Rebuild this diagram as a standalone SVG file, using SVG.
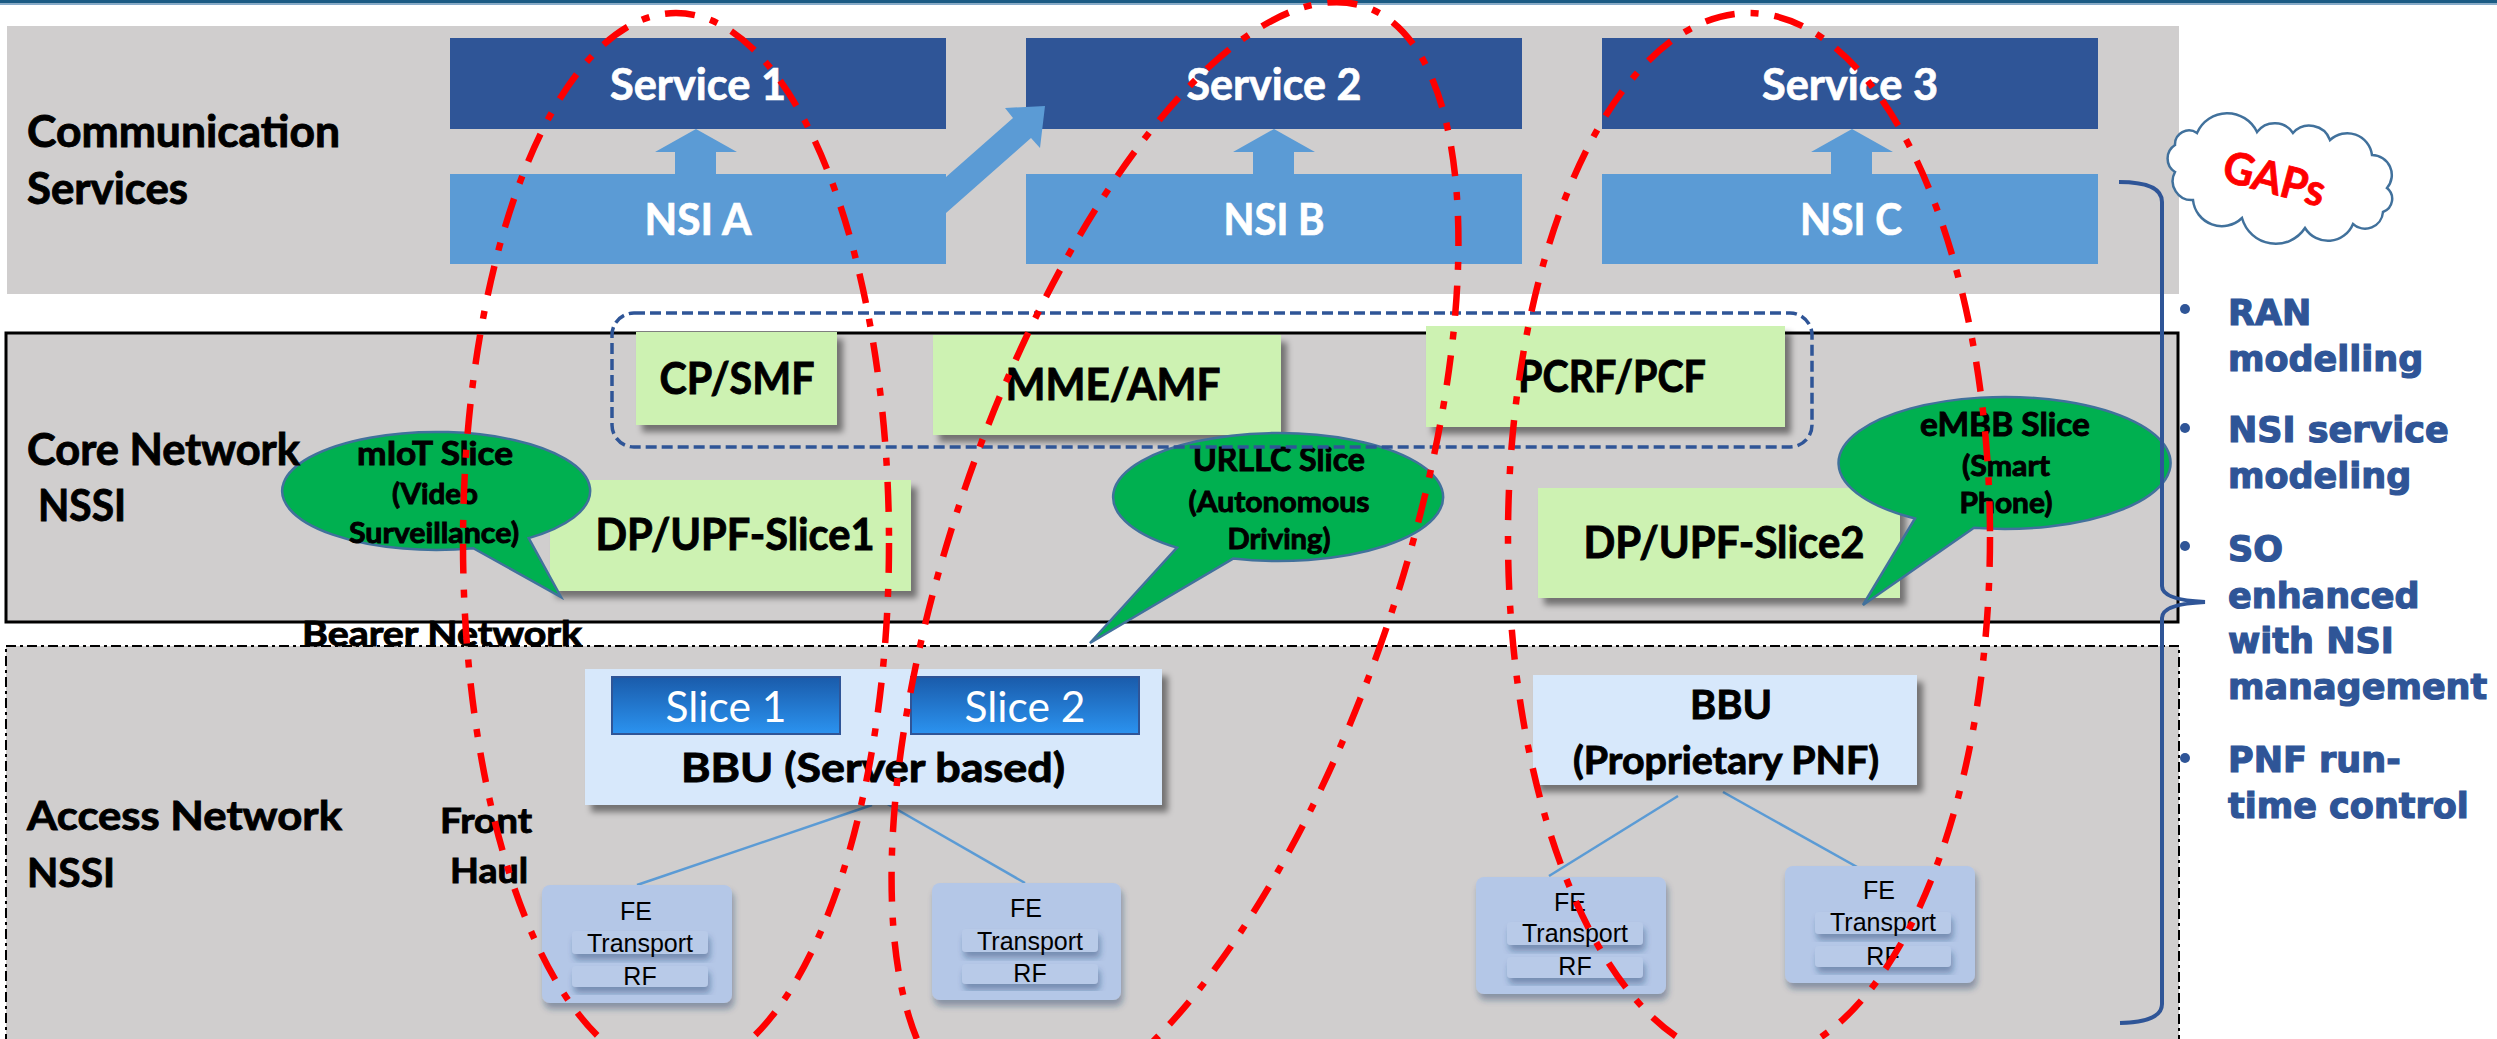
<svg xmlns="http://www.w3.org/2000/svg" width="2497" height="1039" viewBox="0 0 2497 1039">
  <defs>
    <style>
      .lbl { font-family: Lato, "Liberation Sans", sans-serif; font-weight: 700; fill: #000; stroke: #000; stroke-width: 0.9; }
      .svc { font-family: Lato, "Liberation Sans", sans-serif; font-weight: 700; font-size: 43px; fill: #fff; stroke: #fff; stroke-width: 0.7; text-anchor: middle; }
      .big { font-size: 43px; }
      .mid { text-anchor: middle; }
      .bub1 { font-size: 32px; text-anchor: middle; }
      .bub2 { font-size: 28px; text-anchor: middle; }
      .fe { font-family: "Liberation Sans", Arial, sans-serif; font-size: 25px; fill: #000; text-anchor: middle; }
      .gap { font-family: "DejaVu Sans", Verdana, sans-serif; font-weight: 700; font-size: 35px; fill: #2F5597; stroke: #2F5597; stroke-width: 1.2; }
      .panel { fill: #D0CECE; }
      .service { fill: #2F5597; }
      .nsi { fill: #5B9BD5; }
      .nf { fill: #CDF2B2; filter: url(#shadow); }
      .bbu { fill: #D7E8FB; filter: url(#shadow); }
      .febox { fill: #B4C7E7; filter: url(#shadowSoft); }
      .feinner { fill: #B8CAE8; filter: url(#shadowSoft); }
      .bubble { fill: #00B050; stroke: #41719C; stroke-width: 2.5; }
      .link { stroke: #5B9BD5; stroke-width: 2.5; fill: none; }
      .ring { fill: none; stroke: #FF0000; stroke-width: 6.5; stroke-dasharray: 30 16 8 16; }
    </style>
    <filter id="shadow" x="-10%" y="-15%" width="130%" height="150%">
      <feDropShadow dx="6" dy="7" stdDeviation="3" flood-color="#000" flood-opacity="0.45"/>
    </filter>
    <filter id="shadowSoft" x="-10%" y="-15%" width="130%" height="150%">
      <feDropShadow dx="2" dy="6" stdDeviation="3" flood-color="#1F3864" flood-opacity="0.4"/>
    </filter>
    <linearGradient id="sliceGrad" x1="0" y1="0" x2="0" y2="1">
      <stop offset="0" stop-color="#1A5BAA"/>
      <stop offset="1" stop-color="#2B93F0"/>
    </linearGradient>
  </defs>

  <rect x="0" y="0" width="2497" height="1039" fill="#fff"/>
  <!-- header rule -->
  <rect x="0" y="0" width="2497" height="3.5" fill="#1B5B84"/>
  <rect x="0" y="3.5" width="2497" height="1.5" fill="#86AACA"/>

  <!-- Communication services layer -->
  <g id="communication-services">
    <rect class="panel" x="7" y="26" width="2172" height="268"/>
    <text class="lbl big" x="27" y="147" textLength="313" lengthAdjust="spacingAndGlyphs">Communication</text>
    <text class="lbl big" x="27" y="204" textLength="161" lengthAdjust="spacingAndGlyphs">Services</text>
  </g>
  <g id="service-1">
    <rect class="service" x="450" y="38" width="496" height="91"/>
    <text class="svc" x="698" y="100" textLength="176" lengthAdjust="spacingAndGlyphs">Service 1</text>
  </g>
  <g id="service-2">
    <rect class="service" x="1026" y="38" width="496" height="91"/>
    <text class="svc" x="1274" y="100" textLength="175" lengthAdjust="spacingAndGlyphs">Service 2</text>
  </g>
  <g id="service-3">
    <rect class="service" x="1602" y="38" width="496" height="91"/>
    <text class="svc" x="1850" y="100" textLength="176" lengthAdjust="spacingAndGlyphs">Service 3</text>
  </g>

  <!-- Core network layer -->
  <g id="core-network">
    <rect class="panel" x="6" y="333" width="2172" height="289" stroke="#000" stroke-width="3"/>
  </g>

  <!-- Access network layer -->
  <g id="access-network">
    <rect class="panel" x="6" y="646" width="2173" height="420" stroke="#000" stroke-width="2" stroke-dasharray="10 4 3 4"/>
  </g>

  <g id="connectors">
    <polygon class="nsi" points="696,129 737,152 716,152 716,174 675,174 675,152 655,152"/>
    <polygon class="nsi" points="1274,129 1315,152 1294,152 1294,174 1253,174 1253,152 1233,152"/>
    <polygon class="nsi" points="1852,129 1893,152 1872,152 1872,174 1831,174 1831,152 1811,152"/>
    <polygon class="nsi" points="946,177 1013,118 1005,108 1045,106 1040,148 1031,138 946,213"/>
    <line class="link" x1="872" y1="805" x2="637" y2="885"/>
    <line class="link" x1="884" y1="802" x2="1025" y2="883"/>
    <line class="link" x1="1678" y1="796" x2="1549" y2="876"/>
    <line class="link" x1="1723" y1="792" x2="1866" y2="872"/>
  </g>

  <g id="nsi-a">
    <rect class="nsi" x="450" y="174" width="496" height="90"/>
    <text class="svc" x="698" y="235" textLength="107" lengthAdjust="spacingAndGlyphs">NSI A</text>
  </g>
  <g id="nsi-b">
    <rect class="nsi" x="1026" y="174" width="496" height="90"/>
    <text class="svc" x="1274" y="235" textLength="101" lengthAdjust="spacingAndGlyphs">NSI B</text>
  </g>
  <g id="nsi-c">
    <rect class="nsi" x="1602" y="174" width="496" height="90"/>
    <text class="svc" x="1851" y="235" textLength="102" lengthAdjust="spacingAndGlyphs">NSI C</text>
  </g>

  <!-- core network functions -->
  <g id="cp-smf">
    <rect class="nf" x="636" y="332" width="201" height="93"/>
    <text class="lbl big mid" x="737" y="394" textLength="155" lengthAdjust="spacingAndGlyphs">CP/SMF</text>
  </g>
  <g id="mme-amf">
    <rect class="nf" x="933" y="335" width="348" height="100"/>
    <text class="lbl big mid" x="1113" y="400" textLength="215" lengthAdjust="spacingAndGlyphs">MME/AMF</text>
  </g>
  <g id="pcrf-pcf">
    <rect class="nf" x="1426" y="326" width="359" height="101"/>
    <text class="lbl big mid" x="1612" y="392" textLength="188" lengthAdjust="spacingAndGlyphs">PCRF/PCF</text>
  </g>
  <g id="upf-slice1">
    <rect class="nf" x="550" y="480" width="361" height="111"/>
    <text class="lbl big mid" x="735" y="550" textLength="279" lengthAdjust="spacingAndGlyphs">DP/UPF-Slice1</text>
  </g>
  <g id="upf-slice2">
    <rect class="nf" x="1538" y="488" width="362" height="110"/>
    <text class="lbl big mid" x="1724" y="558" textLength="281" lengthAdjust="spacingAndGlyphs">DP/UPF-Slice2</text>
  </g>

  <!-- slice callouts -->
  <g id="miot-slice">
    <path class="bubble" d="M528.7,538.1 L561,597 L473.3,548.2 A154 59 0 1 1 528.7,538.1 Z"/>
    <text class="lbl bub1" x="435" y="465" textLength="156" lengthAdjust="spacingAndGlyphs">mIoT Slice</text>
    <text class="lbl bub2" x="435" y="504" textLength="86" lengthAdjust="spacingAndGlyphs">(Video</text>
    <text class="lbl bub2" x="434" y="543" textLength="170" lengthAdjust="spacingAndGlyphs">Surveillance)</text>
  </g>
  <g id="urllc-slice">
    <path class="bubble" d="M1233.1,558.6 L1090,643 L1177,547.6 A165 64 0 1 1 1233.1,558.6 Z"/>
    <text class="lbl bub1" x="1279" y="471" textLength="172" lengthAdjust="spacingAndGlyphs">URLLC Slice</text>
    <text class="lbl bub2" x="1279" y="512" textLength="181" lengthAdjust="spacingAndGlyphs">(Autonomous</text>
    <text class="lbl bub2" x="1279" y="549" textLength="103" lengthAdjust="spacingAndGlyphs">Driving)</text>
  </g>
  <g id="embb-slice">
    <path class="bubble" d="M1974,527.8 L1863,605 L1915,518.5 A166 66 0 1 1 1974,527.8 Z"/>
    <text class="lbl bub1" x="2005" y="436" textLength="170" lengthAdjust="spacingAndGlyphs">eMBB Slice</text>
    <text class="lbl bub2" x="2006" y="476" textLength="88" lengthAdjust="spacingAndGlyphs">(Smart</text>
    <text class="lbl bub2" x="2006" y="513" textLength="93" lengthAdjust="spacingAndGlyphs">Phone)</text>
  </g>

  <!-- shared control plane grouping -->
  <g id="control-plane-group">
    <rect x="612" y="313" width="1200" height="134" rx="22" fill="none" stroke="#2F5597" stroke-width="3.5" stroke-dasharray="11 5"/>
  </g>

  <g id="core-label">
    <text class="lbl big" x="27" y="465" textLength="273" lengthAdjust="spacingAndGlyphs">Core Network</text>
    <text class="lbl big" x="38" y="521" textLength="88" lengthAdjust="spacingAndGlyphs">NSSI</text>
  </g>
  <g id="bearer-network">
    <text class="lbl" x="302" y="646" font-size="35" textLength="280" lengthAdjust="spacingAndGlyphs">Bearer Network</text>
  </g>
  <g id="access-label">
    <text class="lbl" x="27" y="830" font-size="41" textLength="315" lengthAdjust="spacingAndGlyphs">Access Network</text>
    <text class="lbl" x="27" y="887" font-size="41" textLength="88" lengthAdjust="spacingAndGlyphs">NSSI</text>
  </g>
  <g id="front-haul">
    <text class="lbl mid" x="486" y="833" font-size="35" textLength="92" lengthAdjust="spacingAndGlyphs">Front</text>
    <text class="lbl mid" x="489" y="883" font-size="35" textLength="78" lengthAdjust="spacingAndGlyphs">Haul</text>
  </g>

  <!-- RAN -->
  <g id="bbu-server">
    <rect class="bbu" x="585" y="669" width="577" height="136"/>
    <rect x="612" y="677" width="228" height="57" fill="url(#sliceGrad)" stroke="#2F5597" stroke-width="2"/>
    <rect x="911" y="677" width="228" height="57" fill="url(#sliceGrad)" stroke="#2F5597" stroke-width="2"/>
    <text x="726" y="722" font-family="Lato, 'Liberation Sans', sans-serif" font-size="42" fill="#fff" text-anchor="middle" textLength="121" lengthAdjust="spacingAndGlyphs">Slice 1</text>
    <text x="1025" y="722" font-family="Lato, 'Liberation Sans', sans-serif" font-size="42" fill="#fff" text-anchor="middle" textLength="121" lengthAdjust="spacingAndGlyphs">Slice 2</text>
    <text class="lbl mid" x="873" y="782" font-size="41" textLength="384" lengthAdjust="spacingAndGlyphs">BBU (Server based)</text>
  </g>
  <g id="bbu-pnf">
    <rect class="bbu" x="1533" y="675" width="384" height="110"/>
    <text class="lbl mid" x="1731" y="719" font-size="41" textLength="82" lengthAdjust="spacingAndGlyphs">BBU</text>
    <text class="lbl mid" x="1726" y="774" font-size="39" textLength="306" lengthAdjust="spacingAndGlyphs">(Proprietary PNF)</text>
  </g>

  <g id="fe-1">
    <rect class="febox" x="542" y="885" width="190" height="118" rx="8"/>
    <rect class="feinner" x="572" y="931" width="136" height="23" rx="4"/>
    <rect class="feinner" x="572" y="966" width="136" height="21" rx="4"/>
    <text class="fe" x="636" y="920">FE</text>
    <text class="fe" x="640" y="952">Transport</text>
    <text class="fe" x="640" y="985">RF</text>
  </g>
  <g id="fe-2">
    <rect class="febox" x="932" y="883" width="189" height="117" rx="8"/>
    <rect class="feinner" x="962" y="929" width="136" height="23" rx="4"/>
    <rect class="feinner" x="962" y="964" width="136" height="20" rx="4"/>
    <text class="fe" x="1026" y="917">FE</text>
    <text class="fe" x="1030" y="950">Transport</text>
    <text class="fe" x="1030" y="982">RF</text>
  </g>
  <g id="fe-3">
    <rect class="febox" x="1476" y="877" width="190" height="117" rx="8"/>
    <rect class="feinner" x="1507" y="922" width="136" height="23" rx="4"/>
    <rect class="feinner" x="1507" y="957" width="136" height="21" rx="4"/>
    <text class="fe" x="1570" y="911">FE</text>
    <text class="fe" x="1575" y="942">Transport</text>
    <text class="fe" x="1575" y="975">RF</text>
  </g>
  <g id="fe-4">
    <rect class="febox" x="1785" y="866" width="190" height="117" rx="8"/>
    <rect class="feinner" x="1815" y="912" width="136" height="22" rx="4"/>
    <rect class="feinner" x="1815" y="946" width="136" height="21" rx="4"/>
    <text class="fe" x="1879" y="899">FE</text>
    <text class="fe" x="1883" y="931">Transport</text>
    <text class="fe" x="1883" y="965">RF</text>
  </g>

  <!-- gaps callout -->
  <g id="gaps-brace">
    <path d="M2119,182 Q2162,182 2162,202 L2162,586 Q2162,600 2205,602 Q2162,604 2162,618 L2162,1004 Q2162,1022 2120,1023" fill="none" stroke="#2F5597" stroke-width="4"/>
  </g>
  <g id="gaps-cloud">
    <path d="M2197,133 A33 33 0 0 1 2257,132 A22 22 0 0 1 2293,133 A22 22 0 0 1 2330,140 A25 25 0 0 1 2372,155 A20 20 0 0 1 2387,188 A14 14 0 0 1 2383,212 A18 18 0 0 1 2353,224 A27 27 0 0 1 2305,228 A35 35 0 0 1 2242,218 A29 29 0 0 1 2193,200 A19 19 0 0 1 2175,172 A16 16 0 0 1 2175,145 A14 14 0 0 1 2197,133 Z" fill="#fff" stroke="#41719C" stroke-width="2.5"/>
    <text x="2274" y="194" transform="rotate(15 2274 180)" font-family="Lato, 'Liberation Sans', sans-serif" font-weight="700" font-size="44" fill="#FF0000" stroke="#FF0000" stroke-width="0.8" text-anchor="middle" textLength="104" lengthAdjust="spacingAndGlyphs">GAPs</text>
  </g>
  <g id="gaps-list">
    <circle cx="2185" cy="309" r="5" fill="#2F5597"/>
    <circle cx="2185" cy="428" r="5" fill="#2F5597"/>
    <circle cx="2185" cy="546" r="5" fill="#2F5597"/>
    <circle cx="2185" cy="758" r="5" fill="#2F5597"/>
    <text class="gap" x="2228" y="325">RAN</text>
    <text class="gap" x="2228" y="371">modelling</text>
    <text class="gap" x="2228" y="442">NSI service</text>
    <text class="gap" x="2228" y="488">modeling</text>
    <text class="gap" x="2228" y="561">SO</text>
    <text class="gap" x="2228" y="608">enhanced</text>
    <text class="gap" x="2228" y="653">with NSI</text>
    <text class="gap" x="2228" y="699">management</text>
    <text class="gap" x="2228" y="772">PNF run-</text>
    <text class="gap" x="2228" y="818">time control</text>
  </g>

  <!-- end-to-end slice rings -->
  <g id="slice-rings">
    <ellipse class="ring" cx="676" cy="543" rx="213" ry="530"/>
    <ellipse class="ring" cx="1175" cy="560" rx="222" ry="585" transform="rotate(19 1175 560)"/>
    <ellipse class="ring" cx="1749" cy="537" rx="241" ry="524"/>
  </g>
</svg>
